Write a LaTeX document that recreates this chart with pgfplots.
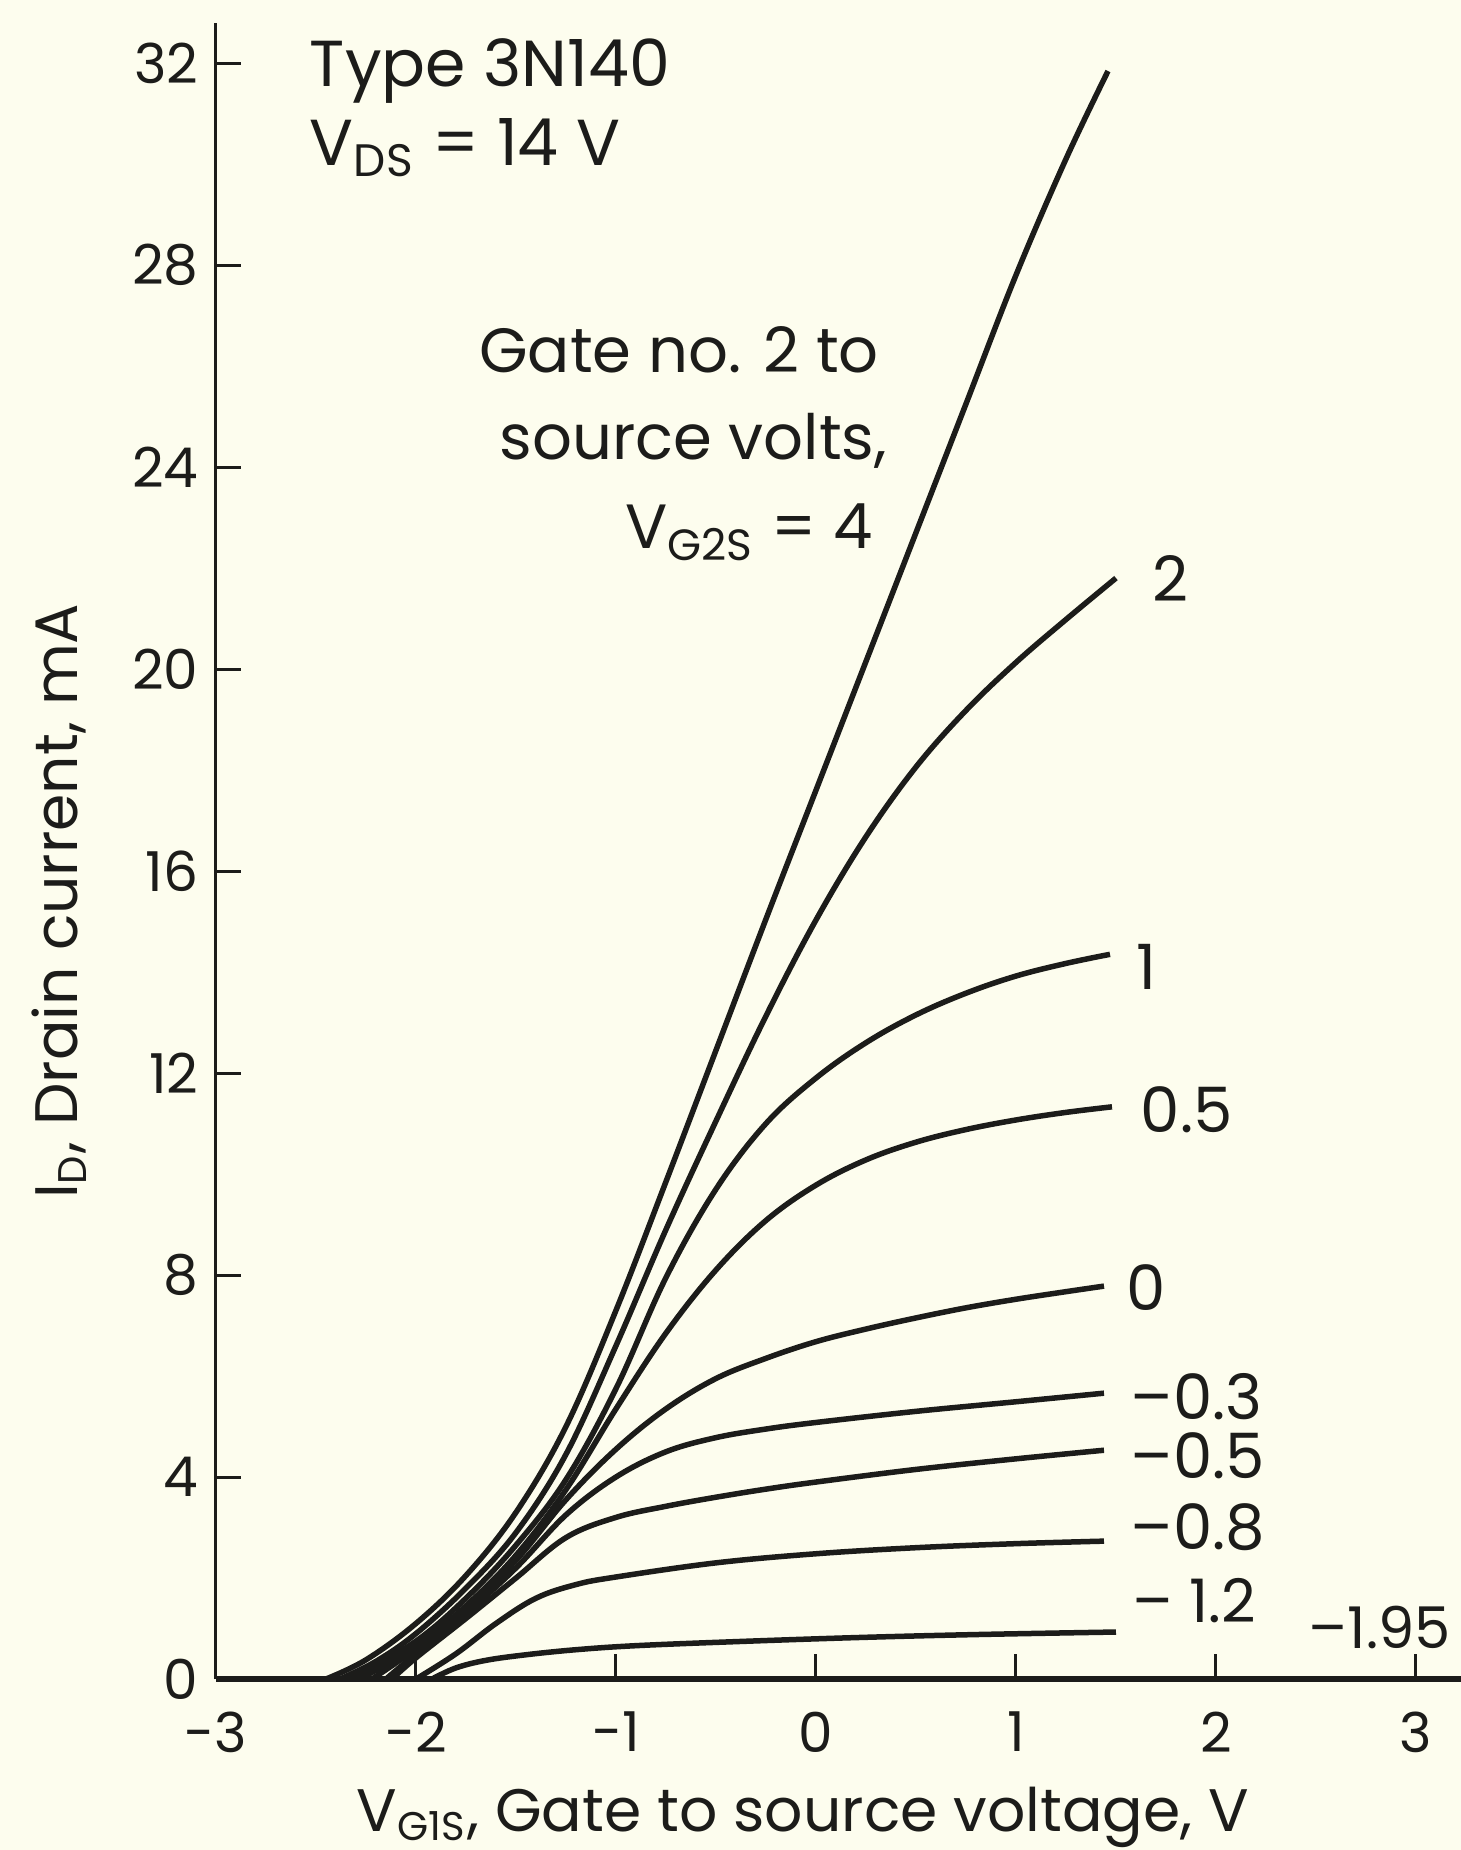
\documentclass[border=0pt]{standalone}
\usepackage{fontspec}
\setmainfont{Poppins}
\usepackage{pgfplots}
\pgfplotsset{compat=1.18}
\definecolor{bg}{RGB}{253,253,238}
\definecolor{ink}{RGB}{28,28,26}
\begin{document}
\begin{tikzpicture}
\fill[bg] (-43.2pt,-34.2pt) rectangle (249pt,335.8pt);
\begin{axis}[
  x=40pt, y=10.1pt,
  xmin=-3, xmax=3.225, ymin=0, ymax=32.8,
  axis lines=left, axis line style={-, draw=ink},
  x axis line style={line width=1.2pt},
  y axis line style={line width=0.6pt},
  clip=false,
  xtick={-3,-2,-1,0,1,2,3}, xticklabels={-3,-2,-1,0,1,2,3},
  ytick={0,4,8,12,16,20,24,28,32}, yticklabels={0,4,8,12,16,20,24,28,32},
  tick align=inside, major tick length=5pt,
  tick style={draw=ink, line width=0.6pt},
  xticklabel style={font=\fontsize{11}{11}\selectfont, text=ink, yshift=-3pt},
  yticklabel style={font=\fontsize{11}{11}\selectfont, text=ink},
  curve/.style={draw=ink, line width=1.1pt, smooth, tension=0.6, mark=none, solid},
]
% V_G2S = 4
\addplot[curve] coordinates {(-2.45,0) (-2.25,0.38) (-2.0,1.1) (-1.75,2.05) (-1.5,3.3) (-1.25,5.0) (-1.0,7.3) (-0.75,9.85) (-0.5,12.45) (-0.25,15.05) (0,17.6) (0.25,20.15) (0.5,22.7) (0.75,25.25) (1.0,27.8) (1.25,30.1) (1.46,31.84)};
% 2
\addplot[curve] coordinates {(-2.38,0) (-2.2,0.35) (-2.0,0.9) (-1.75,1.8) (-1.5,2.9) (-1.25,4.45) (-1.0,6.6) (-0.75,8.9) (-0.5,11.05) (-0.25,13.13) (0,15.03) (0.25,16.68) (0.5,18.06) (0.75,19.18) (1.0,20.13) (1.25,20.98) (1.5,21.8)};
% 1
\addplot[curve] coordinates {(-2.32,0) (-2.0,0.75) (-1.75,1.6) (-1.5,2.65) (-1.25,3.95) (-1.0,5.75) (-0.75,7.95) (-0.5,9.7) (-0.25,11.0) (0,11.9) (0.25,12.6) (0.5,13.15) (0.75,13.58) (1.0,13.92) (1.25,14.17) (1.47,14.35)};
% 0.5
\addplot[curve] coordinates {(-2.28,0) (-2.0,0.65) (-1.75,1.45) (-1.5,2.45) (-1.25,3.75) (-1.0,5.35) (-0.75,6.85) (-0.5,8.1) (-0.25,9.08) (0,9.78) (0.25,10.28) (0.5,10.63) (0.75,10.88) (1.0,11.07) (1.25,11.22) (1.48,11.33)};
% 0
\addplot[curve] coordinates {(-2.22,0) (-2.0,0.6) (-1.75,1.4) (-1.5,2.35) (-1.25,3.55) (-1.0,4.55) (-0.75,5.35) (-0.5,5.95) (-0.25,6.35) (0,6.68) (0.25,6.93) (0.5,7.15) (0.75,7.35) (1.0,7.52) (1.25,7.67) (1.44,7.78)};
% -0.3
\addplot[curve] coordinates {(-2.15,0) (-2.0,0.5) (-1.75,1.3) (-1.5,2.2) (-1.25,3.25) (-1.0,4.0) (-0.75,4.5) (-0.5,4.78) (-0.25,4.95) (0,5.08) (0.5,5.3) (1.0,5.49) (1.44,5.66)};
% -0.5
\addplot[curve] coordinates {(-2.12,0) (-2.0,0.42) (-1.75,1.2) (-1.5,2.0) (-1.25,2.8) (-1.0,3.2) (-0.75,3.42) (-0.5,3.6) (-0.25,3.76) (0,3.9) (0.5,4.15) (1.0,4.36) (1.44,4.53)};
% -0.8
\addplot[curve] coordinates {(-2.0,0) (-1.8,0.5) (-1.6,1.1) (-1.4,1.6) (-1.2,1.87) (-1.0,2.02) (-0.5,2.3) (0,2.48) (0.5,2.6) (1.0,2.68) (1.44,2.73)};
% -1.2
\addplot[curve] coordinates {(-1.92,0) (-1.8,0.22) (-1.65,0.37) (-1.45,0.48) (-1.2,0.58) (-0.9,0.66) (-0.4,0.74) (0.2,0.82) (0.8,0.88) (1.5,0.93)};
% -1.95
\addplot[draw=ink, mark=none, solid, sharp plot, line width=1.2pt] coordinates {(-1.9,0) (3.2,0)};

% annotations
\begin{scope}[every node/.style={inner sep=0pt, text=ink}]
\node[anchor=base west, font=\fontsize{13}{13}\selectfont] at (axis cs:-2.535,31.54) {Type 3N140};
\node[anchor=base west, font=\fontsize{13}{13}\selectfont] at (axis cs:-2.535,29.98) {V\textsubscript{DS} = 14 V};
\node[anchor=base east, font=\fontsize{12.5}{12.5}\selectfont] at (axis cs:0.32,25.88) {Gate no. 2 to};
\node[anchor=base east, font=\fontsize{12.5}{12.5}\selectfont] at (axis cs:0.36,24.14) {source volts,};
\node[anchor=base east, font=\fontsize{12.5}{12.5}\selectfont] at (axis cs:0.29,22.38) {V\textsubscript{G2S} = 4};
\node[anchor=west, font=\fontsize{12.5}{12.5}\selectfont] at (axis cs:1.68,21.8) {2};
\node[anchor=west, font=\fontsize{12.5}{12.5}\selectfont] at (axis cs:1.60,14.1) {1};
\node[anchor=west, font=\fontsize{12.5}{12.5}\selectfont] at (axis cs:1.62,11.27) {0.5};
\node[anchor=west, font=\fontsize{12.5}{12.5}\selectfont] at (axis cs:1.55,7.76) {0};
\node[anchor=west, font=\fontsize{12.5}{12.5}\selectfont] at (axis cs:1.57,5.6) {\textendash0.3};
\node[anchor=west, font=\fontsize{12.5}{12.5}\selectfont] at (axis cs:1.57,4.42) {\textendash0.5};
\node[anchor=west, font=\fontsize{12.5}{12.5}\selectfont] at (axis cs:1.57,3.0) {\textendash0.8};
\node[anchor=west, font=\fontsize{12}{12}\selectfont] at (axis cs:1.58,1.56) {\textendash\ 1.2};
\node[anchor=west, font=\fontsize{11.5}{11.5}\selectfont] at (axis cs:2.46,1.03) {\textendash1.95};
\node[rotate=90, font=\fontsize{12}{12}\selectfont] at (axis cs:-3.785,15.4) {I\textsubscript{D}, Drain current, mA};
\node[font=\fontsize{12}{12}\selectfont] at (axis cs:-0.065,-2.75) {V\textsubscript{G1S}, Gate to source voltage, V};
\end{scope}
\end{axis}
\pgfresetboundingbox
\path (-43.2pt,-34.2pt) rectangle (249pt,335.8pt);
\end{tikzpicture}
\end{document}
